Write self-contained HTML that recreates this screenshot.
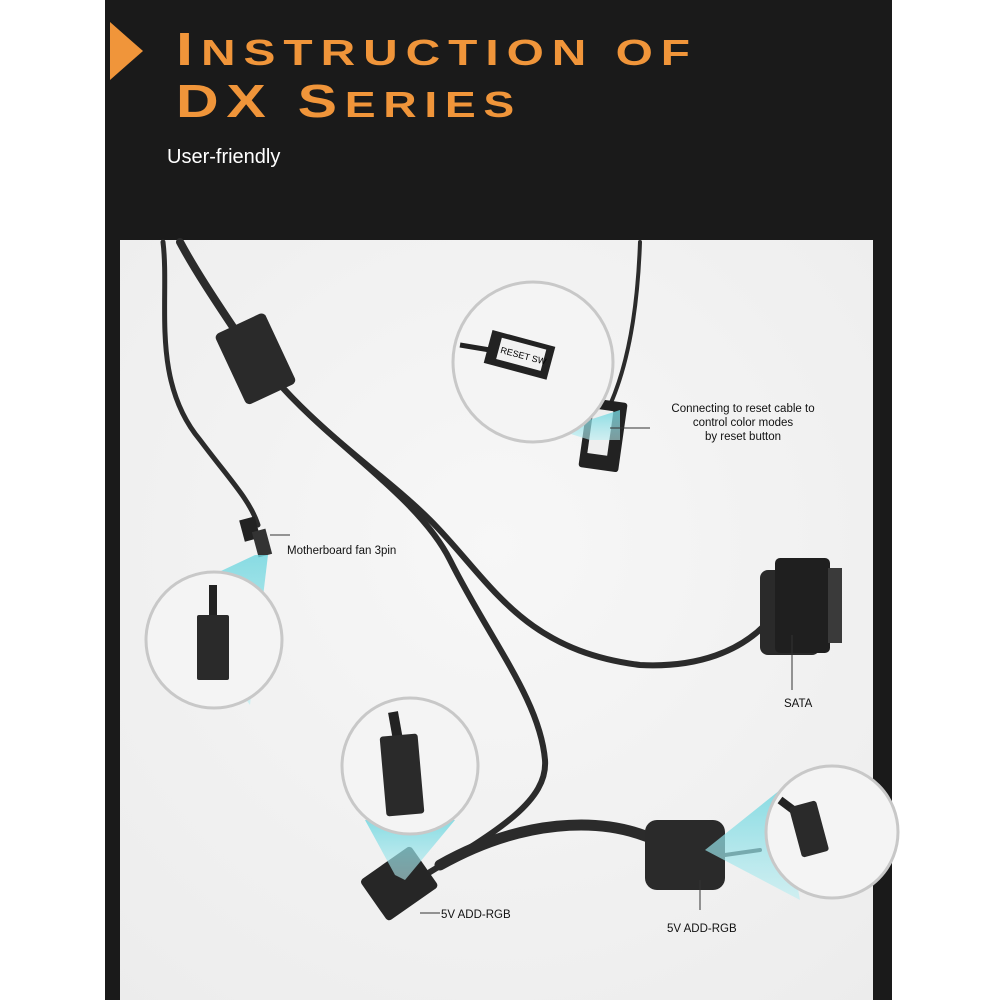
<!DOCTYPE html>
<html><head><meta charset="utf-8"><style>
html,body{margin:0;padding:0;background:#fff;width:1000px;height:1000px;overflow:hidden}
svg{display:block}
</style></head><body>
<svg width="1000" height="1000" viewBox="0 0 1000 1000" xmlns="http://www.w3.org/2000/svg">
<defs>
<linearGradient id="cy" x1="0" y1="0" x2="0" y2="1"><stop offset="0" stop-color="#6fd6df" stop-opacity=".95"/><stop offset="1" stop-color="#b9eef2" stop-opacity=".7"/></linearGradient>
<radialGradient id="bg" cx=".5" cy=".4" r=".8"><stop offset="0" stop-color="#f7f7f7"/><stop offset="1" stop-color="#ececec"/></radialGradient>
</defs>
<rect x="105" y="0" width="787" height="1000" fill="#1a1a1a"/>
<rect x="120" y="240" width="753" height="760" fill="url(#bg)"/>
<polygon points="110,22 143,51 110,80" fill="#f0953a"/>
<text x="176" y="65" textLength="522" lengthAdjust="spacingAndGlyphs" fill="#f0953a" font-family="Liberation Sans,sans-serif" font-weight="bold" font-size="46" letter-spacing="6">I<tspan font-size="36">NSTRUCTION OF</tspan></text>
<text x="176" y="117" textLength="346" lengthAdjust="spacingAndGlyphs" fill="#f0953a" font-family="Liberation Sans,sans-serif" font-weight="bold" font-size="46" letter-spacing="6">DX S<tspan font-size="36">ERIES</tspan></text>
<text x="167" y="163" fill="#fff" font-family="Liberation Sans,sans-serif" font-size="20">User-friendly</text>

<g fill="none" stroke="#2b2b2b" stroke-linecap="round">
<path d="M163,242 C170,300 150,380 200,440 C230,480 250,500 258,525" stroke-width="5"/>
<path d="M180,242 C195,270 215,300 235,330" stroke-width="8"/>
<path d="M280,385 C330,440 390,480 430,520 C490,580 520,650 640,665 C700,668 740,650 765,625" stroke-width="6"/>
<path d="M285,390 C340,450 420,500 450,560 C490,640 540,700 545,760 C548,800 500,830 430,872" stroke-width="6"/>
<path d="M440,865 C520,820 600,815 655,840" stroke-width="11"/>
<path d="M640,242 C638,300 630,360 610,405" stroke-width="4"/>
<path d="M725,855 L760,850" stroke-width="4"/>
</g>
<rect x="228" y="320" width="55" height="78" rx="5" fill="#2a2a2a" transform="rotate(-25 255 359)"/>
<rect x="242" y="518" width="16" height="22" fill="#222" transform="rotate(-15 250 530)"/>
<rect x="255" y="530" width="14" height="26" fill="#333" transform="rotate(-15 262 543)"/>
<rect x="583" y="400" width="40" height="70" rx="3" fill="#222" transform="rotate(8 603 435)"/>
<rect x="590" y="410" width="20" height="45" fill="#eee" transform="rotate(8 603 435)"/>
<rect x="760" y="570" width="60" height="85" rx="8" fill="#2a2a2a"/>
<rect x="775" y="558" width="55" height="95" rx="5" fill="#1f1f1f"/>
<rect x="828" y="568" width="14" height="75" fill="#3a3a3a"/>
<rect x="368" y="858" width="62" height="50" rx="4" fill="#262626" transform="rotate(-35 400 883)"/>
<rect x="645" y="820" width="80" height="70" rx="12" fill="#2a2a2a"/>
<polygon points="170,595 255,555 268,555 250,705" fill="url(#cy)" opacity=".85"/>
<polygon points="558,430 620,410 620,440 590,440" fill="url(#cy)" opacity=".85"/>
<polygon points="365,820 455,820 405,880 395,875" fill="url(#cy)" opacity=".85"/>
<polygon points="705,850 780,790 800,900" fill="url(#cy)" opacity=".85"/>
<g stroke="#c8c8c8" stroke-width="3" fill="#f4f4f4">
<circle cx="533" cy="362" r="80"/>
<circle cx="214" cy="640" r="68"/>
<circle cx="410" cy="766" r="68"/>
<circle cx="832" cy="832" r="66"/>
</g>
<path d="M460,345 L490,350" stroke="#222" stroke-width="5"/>
<rect x="487" y="338" width="65" height="34" fill="#222" transform="rotate(15 520 355)"/>
<rect x="498" y="343" width="46" height="22" fill="#f2f2f2" transform="rotate(15 520 355)"/>
<text x="500" y="358" font-family="Liberation Sans,sans-serif" font-size="9" transform="rotate(15 520 355)">RESET SW</text>
<path d="M213,585 L213,620" stroke="#222" stroke-width="8"/>
<rect x="197" y="615" width="32" height="65" rx="2" fill="#2a2a2a"/>
<path d="M393,712 L398,740" stroke="#222" stroke-width="10"/>
<rect x="383" y="735" width="38" height="80" rx="3" fill="#2a2a2a" transform="rotate(-5 402 775)"/>
<path d="M780,800 L800,815" stroke="#222" stroke-width="8"/>
<rect x="795" y="803" width="28" height="52" rx="3" fill="#2a2a2a" transform="rotate(-15 809 829)"/>
<g stroke="#333" stroke-width="1">
<line x1="610" y1="428" x2="650" y2="428"/>
<line x1="270" y1="535" x2="290" y2="535"/>
<line x1="792" y1="635" x2="792" y2="690"/>
<line x1="420" y1="913" x2="440" y2="913"/>
<line x1="700" y1="880" x2="700" y2="910"/>
</g>
<g font-family="Liberation Sans,sans-serif" fill="#111" font-size="11.5">
<text x="743" y="412" text-anchor="middle">Connecting to reset cable to</text>
<text x="743" y="426" text-anchor="middle">control color modes</text>
<text x="743" y="440" text-anchor="middle">by reset button</text>
<text x="287" y="554">Motherboard fan 3pin</text>
<text x="784" y="707">SATA</text>
<text x="441" y="918">5V ADD-RGB</text>
<text x="667" y="932">5V ADD-RGB</text>
</g>
</svg>
</body></html>
